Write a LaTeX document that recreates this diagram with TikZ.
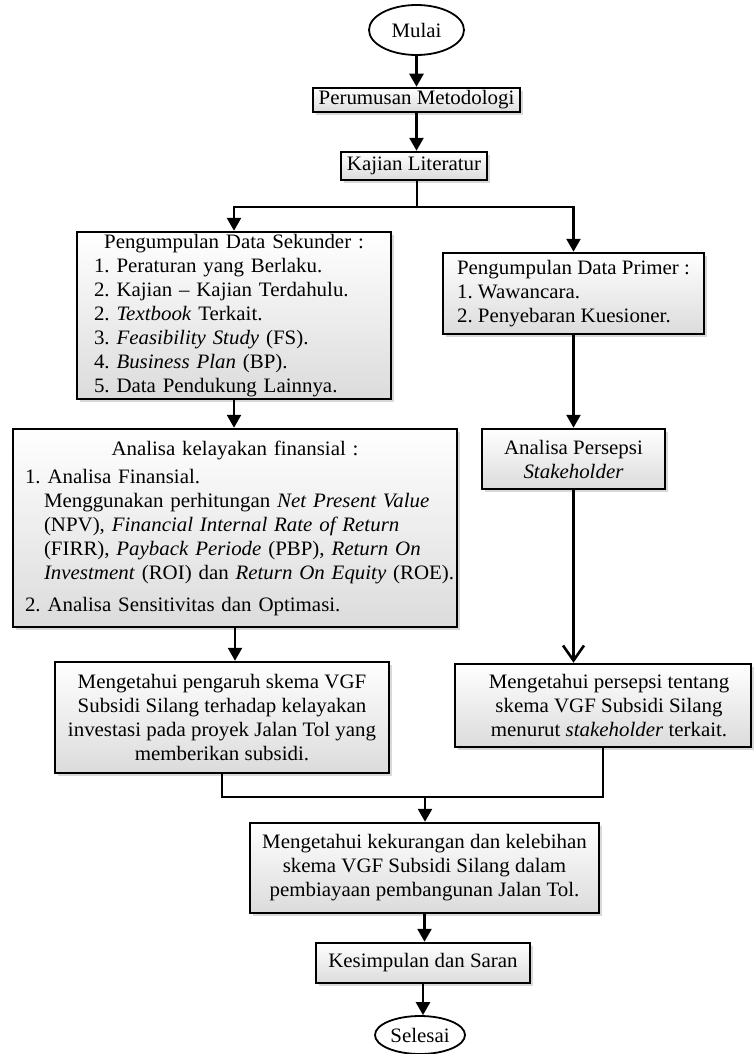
\documentclass[tikz,border=0pt]{standalone}
\usepackage{fontspec}
\setmainfont[FakeStretch=1.02]{Liberation Serif}
\usetikzlibrary{arrows.meta,shapes.geometric,shadows}
\frenchspacing
\begin{document}
\begin{tikzpicture}[x=1pt,y=-1pt,
  txt/.style={font=\fontsize{20.5pt}{24pt}\selectfont\frenchspacing},
  box/.style={txt,draw,line width=2.5pt,rectangle,top color=white,bottom color=black!14,
    drop shadow={shadow xshift=3pt,shadow yshift=-3pt,fill=black!30},
    inner sep=0pt,align=center},
  term/.style={txt,draw,line width=1.8pt,ellipse,fill=white,inner sep=0pt},
  conn/.style={line width=2.6pt},
  arr/.style={conn,-{Triangle[width=14pt,length=13pt]}},
  openarr/.style={conn,-{Straight Barb[width=21pt,length=15pt,line width=2.6pt]}}
]
\useasboundingbox (0,0) rectangle (753,1054);

\node[term,minimum width=95pt,minimum height=50pt] (mulai) at (416.5,30) {Mulai};
\node[box,minimum width=207pt,minimum height=24pt] (perumusan) at (416.5,100) {Perumusan Metodologi};
\node[box,minimum width=146pt,minimum height=28pt] (kajian) at (414,166) {Kajian Literatur};

\node[box,minimum width=314pt,minimum height=167pt,text width=280pt,align=left] (sekunder) at (234,315.5)
  {{\centering Pengumpulan Data Sekunder :\par}
   1. Peraturan yang Berlaku.\\
   2. Kajian -- Kajian Terdahulu.\\
   2. \textit{Textbook} Terkait.\\
   3. \textit{Feasibility Study} (FS).\\
   4. \textit{Business Plan} (BP).\\
   5. Data Pendukung Lainnya.};

\node[box,minimum width=261pt,minimum height=81pt,align=left] (primer) at (573.5,293.5)
  {Pengumpulan Data Primer :\\1. Wawancara.\\2. Penyebaran Kuesioner.};

\node[box,minimum width=183pt,minimum height=60pt] (persepsi) at (573.5,459)
  {Analisa Persepsi\\\textit{Stakeholder}};

\node[box,minimum width=444pt,minimum height=198pt,text width=420pt,align=left] (kelayakan) at (235,528)
  {{\centering Analisa kelayakan finansial :\par}
   \vspace{4pt}
   \mbox{1. Analisa Finansial.}\\
   \mbox{\hspace*{19pt}Menggunakan perhitungan \textit{Net Present Value}}\\
   \mbox{\hspace*{19pt}(NPV), \textit{Financial Internal Rate of Return}}\\
   \mbox{\hspace*{19pt}(FIRR), \textit{Payback Periode} (PBP), \textit{Return On}}\\
   \mbox{\hspace*{19pt}\textit{Investment} (ROI) dan \textit{Return On Equity} (ROE).}\par
   \vspace{8pt}
   \mbox{2. Analisa Sensitivitas dan Optimasi.}};

\node[box,minimum width=334pt,minimum height=111pt] (pengaruh) at (222,717.5)
  {Mengetahui pengaruh skema VGF\\Subsidi Silang terhadap kelayakan\\investasi pada proyek Jalan Tol yang\\memberikan subsidi.};

\node[box,minimum width=296pt,minimum height=83pt] (vgf) at (603,705.5)
  {\hspace*{12pt}Mengetahui persepsi tentang\\\hspace*{12pt}skema VGF Subsidi Silang\\\hspace*{12pt}menurut \textit{stakeholder} terkait.};

\node[box,minimum width=349pt,minimum height=90pt] (kekurangan) at (424.5,868)
  {Mengetahui kekurangan dan kelebihan\\skema VGF Subsidi Silang dalam\\pembiayaan pembangunan Jalan Tol.};

\node[box,minimum width=214pt,minimum height=40pt] (kesimpulan) at (423,963) {Kesimpulan dan Saran};

\node[term,minimum width=90pt,minimum height=38pt] (selesai) at (420,1035) {Selesai};

\coordinate (split) at (417,207);
\coordinate (join) at (425,797);

\draw[arr] (mulai.south) -- (perumusan.north);
\draw[arr] (perumusan.south) -- (perumusan.south |- kajian.north);
\draw[conn] (kajian.south -| split) -- (split);
\draw[arr] (split) -| (sekunder.north);
\draw[arr] (split) -| (primer.north);
\draw[arr] (sekunder.south) -- (sekunder.south |- kelayakan.north);
\draw[arr] (primer.south) -- (persepsi.north);
\draw[arr] (kelayakan.south) -- (kelayakan.south |- pengaruh.north);
\draw[openarr] (persepsi.south) -- (persepsi.south |- vgf.north);
\draw[conn] (pengaruh.south) |- (join);
\draw[conn] (vgf.south) |- (join);
\draw[arr] (join) -- (join |- kekurangan.north);
\draw[arr] (kekurangan.south) -- (kekurangan.south |- kesimpulan.north);
\draw[arr] (kesimpulan.south) -- (kesimpulan.south |- selesai.north);
\end{tikzpicture}
\end{document}
